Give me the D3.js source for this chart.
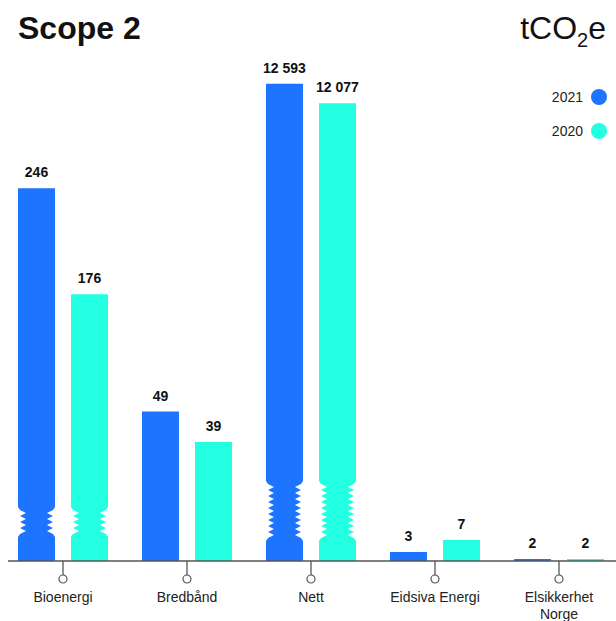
<!DOCTYPE html>
<html>
<head>
<meta charset="utf-8">
<script src="https://cdn.jsdelivr.net/npm/d3@7"></script>
<style>
  body { margin: 0; background: #fff; }
  svg { font-family: "Liberation Sans", Arial, sans-serif; display: block; }
</style>
</head>
<body>
<div id="chart"></div>
<script>
const categories = ["Bioenergi", "Bredbånd", "Nett", "Eidsiva Energi", "Elsikkerhet\nNorge"];
const years = ["2021", "2020"];
const values2021 = [246, 49, 12593, 3, 2];
const values2020 = [176, 39, 12077, 7, 2];
// each group is drawn on its own scale (axis is broken for the big ones)
const scaleMax = [324, 161, 12955, 163, 491];
const broken = [true, false, true, false, false];

const colors = { "2021": "#1c74ff", "2020": "#22ffe1" };
const width = 616, height = 621;
const baseY = 561, topY = 70;

const svg = d3.select("#chart").append("svg")
    .attr("width", width)
    .attr("height", height);

const x = d3.scaleBand().domain(categories).range([1, 621]).padding(0);
const xInner = d3.scaleBand().domain(years).range([-45, 45]).paddingInner(0.302).paddingOuter(0);

const yScales = scaleMax.map((m) => d3.scaleLinear().domain([0, m]).range([baseY, topY]));

const bars = [];
categories.forEach((c, i) => {
    bars.push({ cat: c, i: i, year: "2021", value: values2021[i] });
    bars.push({ cat: c, i: i, year: "2020", value: values2020[i] });
});

// title
svg.append("text")
    .attr("x", 18).attr("y", 39)
    .attr("font-size", 32).attr("font-weight", "bold")
    .attr("fill", "#111")
    .text("Scope 2");

const unit = svg.append("text")
    .attr("x", 606).attr("y", 39)
    .attr("text-anchor", "end")
    .attr("font-size", 32)
    .attr("fill", "#111");
unit.append("tspan").text("tCO");
unit.append("tspan").attr("font-size", 20).attr("dy", 8).text("2");
unit.append("tspan").attr("dy", -8).text("e");

// legend
const legend = svg.append("g").selectAll("g")
    .data(years)
    .join("g")
    .attr("transform", (d, i) => "translate(599," + (97 + i * 34) + ")");
legend.append("circle").attr("r", 8).attr("fill", (d) => colors[d]);
legend.append("text")
    .attr("x", -16).attr("dy", "0.35em")
    .attr("text-anchor", "end")
    .attr("font-size", 14)
    .attr("fill", "#222")
    .text((d) => d);

function barPath(x0, x1, yTop, teeth) {
    const p = d3.path();
    if (!teeth) {
        p.rect(x0, yTop, x1 - x0, baseY - yTop);
        return p.toString();
    }
    const bStart = baseY - (teeth > 5 ? 20 : 24);
    const pitch = 6, out = 2, inn = 8;
    const left = [], right = [];
    left.push([x0, baseY], [x0, bStart]);
    let y = bStart - 3;
    left.push([x0 + out, y]);
    for (let k = 0; k < teeth; k++) {
        left.push([x0 + inn, y - pitch / 2]);
        left.push([x0 + out, y - pitch]);
        y -= pitch;
    }
    left.push([x0, y - 3], [x0, yTop]);
    left.forEach((pt) => right.unshift([x0 + x1 - pt[0], pt[1]]));
    const pts = left.concat(right);
    p.moveTo(pts[0][0], pts[0][1]);
    pts.slice(1).forEach((pt) => p.lineTo(pt[0], pt[1]));
    p.closePath();
    return p.toString();
}

const teethCount = [4, 0, 9, 0, 0];

svg.append("g").selectAll("path")
    .data(bars)
    .join("path")
    .attr("d", (d) => {
        const cx = x(d.cat) + x.bandwidth() / 2 + xInner(d.year);
        const yTop = yScales[d.i](d.value);
        return barPath(cx, cx + xInner.bandwidth(), yTop, broken[d.i] ? teethCount[d.i] : 0);
    })
    .attr("fill", (d) => colors[d.year]);

// value labels
svg.append("g").selectAll("text")
    .data(bars)
    .join("text")
    .attr("x", (d) => x(d.cat) + x.bandwidth() / 2 + xInner(d.year) + xInner.bandwidth() / 2)
    .attr("y", (d) => yScales[d.i](d.value) - 11)
    .attr("text-anchor", "middle")
    .attr("font-size", 14)
    .attr("font-weight", "bold")
    .attr("fill", "#111")
    .text((d) => d3.format(",")(d.value).replace(/,/g, " "));

// axis
svg.append("line")
    .attr("x1", 8).attr("x2", 616)
    .attr("y1", baseY).attr("y2", baseY)
    .attr("stroke", "#555").attr("stroke-width", 1.3);

const ticks = svg.append("g").selectAll("g")
    .data(categories)
    .join("g")
    .attr("transform", (d) => "translate(" + (x(d) + x.bandwidth() / 2) + ",0)");
ticks.append("line")
    .attr("y1", baseY).attr("y2", 575)
    .attr("stroke", "#555").attr("stroke-width", 1.3);
ticks.append("circle")
    .attr("cy", 579).attr("r", 4)
    .attr("fill", "#fff").attr("stroke", "#555").attr("stroke-width", 1.2);
ticks.append("text")
    .attr("text-anchor", "middle")
    .attr("font-size", 14)
    .attr("fill", "#222")
    .selectAll("tspan")
    .data((d) => d.split("\n"))
    .join("tspan")
    .attr("x", 0)
    .attr("y", (d, i) => 602 + i * 17)
    .text((d) => d);
</script>
</body>
</html>
